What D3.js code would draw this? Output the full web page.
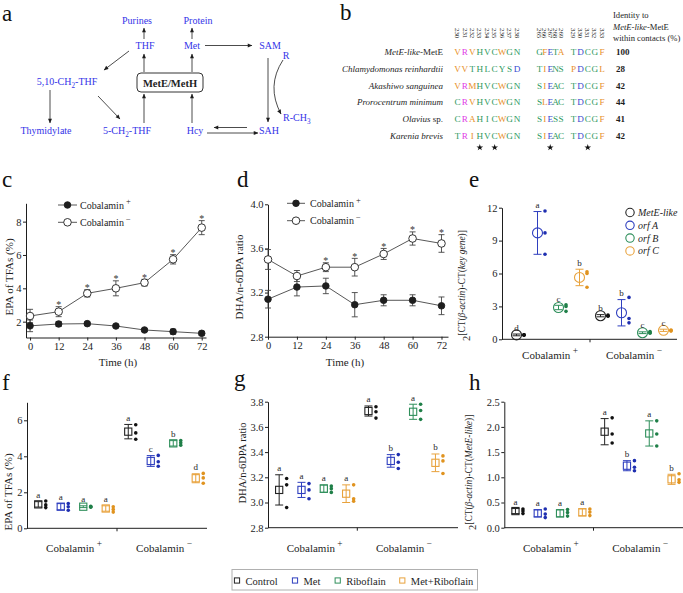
<!DOCTYPE html>
<html><head><meta charset="utf-8">
<script src="https://cdn.jsdelivr.net/npm/d3@7/dist/d3.min.js"></script>
<style>html,body{margin:0;padding:0;background:#fff;} svg{display:block;}
svg text, svg tspan{font-family:"Liberation Serif","Times New Roman",serif;}</style>
</head><body>
<svg id="fig" width="683" height="593"></svg>
<script>
// ================= DATA =================
// panel a: pathway labels
const pathwayLabels = ["Purines","Protein","THF","Met","SAM","R","5,10-CH2-THF","Thymidylate","5-CH2-THF","Hcy","SAH","R-CH3"];
const enzymeLabel = "MetE/MetH";

// panel b: alignment
const alignPosG1 = [230,231,232,233,234,235,236,237,238];
const alignPosG2 = [265,266,267,268,269];
const alignPosG3 = [329,330,331,332,333];
const alignSpecies = ["MetE-like-MetE","Chlamydomonas reinhardtii","Akashiwo sanguinea","Prorocentrum minimum","Olavius sp.","Karenia brevis"];
const alignSeq = ["VRVHVCWGN GFETA TDCGF","VVTHLCYSD TIENS PDCGL","VRMHVCWGN SIEAC TDCGF","CRVHVCWGN SLEAC TDCGF","CRAHICWGN SIESS TDCGF","TRIHVCWGN SIEAC TDCGF"];
const alignClass = ["omogggogg gobgo gbggo","ooggggggb gobgg obggo","omogggogg gobgg gbggo","gmogggogg gobgg gbggo","gmogggogg gobgg gbggo","gmogggogg gobgg gbggo"];
const alignIdentity = [100,28,42,44,41,42];
const alignStars = [233,235,267,331];

// panels c, d: time course
const hours = [0,12,24,36,48,60,72];
const epaCobPlus = [1.75,1.86,1.88,1.74,1.5,1.4,1.3];
const epaCobPlusErr = [0.35,0.15,0.08,0.08,0.08,0.15,0.12];
const epaCobMinus = [2.34,2.6,3.7,4.0,4.34,5.74,7.64];
const epaCobMinusErr = [0.4,0.3,0.22,0.45,0.2,0.28,0.42];
const epaStars = [12,24,36,48,60,72];
const ratioCobPlus = [3.14,3.25,3.26,3.09,3.13,3.13,3.08];
const ratioCobPlusErr = [0.08,0.08,0.07,0.11,0.05,0.05,0.08];
const ratioCobMinus = [3.50,3.35,3.43,3.43,3.55,3.69,3.645];
const ratioCobMinusErr = [0.09,0.05,0.04,0.08,0.05,0.06,0.08];
const ratioStars = [24,36,48,60,72];

// panel e: gene expression
const conditions = ["Cobalamin+","Cobalamin−"];
const genes = ["MetE-like","orf A","orf B","orf C"];
const geneMean = [[0.4,9.7,2.9,5.64],[2.15,2.42,0.6,0.82]];
const geneErr = [[0.08,1.95,0.2,0.75],[0.1,1.2,0.08,0.1]];
const geneDots = [[[0.42,0.4,0.38],[11.7,9.7,7.75],[3.15,3.0,2.55],[6.15,6.0,4.75]],
                  [[2.2,2.15,2.1],[3.82,1.9,1.5],[0.7,0.62,0.55],[0.85,0.8,0.75]]];
const geneLetters = [["d","a","c","b"],["b","b","c","c"]];

// panels f, g, h: treatments
const treatments = ["Control","Met","Riboflain","Met+Riboflain"];
const epaTreatMean = [[1.33,1.2,1.2,1.1],[5.37,3.74,4.72,2.78]];
const epaTreatErr = [[0.15,0.17,0.05,0.15],[0.4,0.3,0.15,0.25]];
const epaTreatDots = [[[1.52,1.3,1.15],[1.38,1.2,1.0],[1.22,1.2,1.17],[1.2,1.05,0.9]],
                      [[5.75,5.3,4.95],[4.05,3.7,3.45],[4.88,4.75,4.62],[3.05,2.8,2.5]]];
const epaTreatLetters = [["a","a","a","a"],["a","c","b","d"]];
const ratioTreatMean = [[3.10,3.10,3.11,3.07],[3.726,3.33,3.72,3.315]];
const ratioTreatErr = [[0.12,0.06,0.03,0.07],[0.04,0.05,0.06,0.07]];
const ratioTreatDots = [[[3.19,3.14,2.96],[3.15,3.1,3.03],[3.13,3.11,3.08],[3.14,3.03,3.01]],
                        [[3.76,3.72,3.67],[3.38,3.32,3.27],[3.78,3.73,3.66],[3.37,3.33,3.23]]];
const ratioTreatLetters = [["a","a","a","a"],["a","b","a","b"]];
const metETreatMean = [[0.33,0.285,0.285,0.305],[1.905,1.23,1.87,0.96]];
const metETreatErr = [[0.05,0.07,0.07,0.07],[0.26,0.1,0.25,0.1]];
const metETreatDots = [[[0.37,0.33,0.28],[0.37,0.27,0.2],[0.36,0.3,0.23],[0.37,0.31,0.24]],
                       [[2.18,1.86,1.68],[1.33,1.2,1.13],[2.12,1.86,1.62],[1.07,0.95,0.9]]];
const metETreatLetters = [["a","a","a","a"],["a","b","a","b"]];

// ================= DRAWING =================
const svg = d3.select("#fig");
const ink = "#1e1e1e";
const pathBlue = "#3434e8";
const seriesColor = ["#222222","#2f3fbf","#2f8f5b","#e8a23c"];
const dotColor = ["#111111","#1f2fb0","#1f7f48","#e0931f"];
const resColor = {o:"#e8902a", m:"#e03de6", g:"#2f9a5f", b:"#3a4bcf"};

const defs = svg.append("defs");
defs.append("marker").attr("id","ah").attr("viewBox","0 0 10 10").attr("refX",9.5).attr("refY",5)
  .attr("markerWidth",6).attr("markerHeight",4.5).attr("markerUnits","userSpaceOnUse").attr("orient","auto")
  .append("path").attr("d","M0,0.5L10,5L0,9.5Z").attr("fill",ink);

function rich(sel, parts, base){
  let shift = 0;
  parts.forEach(p=>{
    const target = p.sub ? base*0.3 : (p.sup ? -base*0.42 : 0);
    const ts = sel.append("tspan").text(p.t);
    if (target !== shift){ ts.attr("dy", target-shift); shift = target; }
    if (p.sub || p.sup) ts.attr("font-size", base*(p.ss||0.72));
    if (p.i) ts.attr("font-style","italic");
    if (p.b) ts.attr("font-weight","bold");
  });
  return sel;
}
function panelLetter(t,x,y){ svg.append("text").attr("x",x).attr("y",y).attr("font-size",23).attr("fill","#111").text(t); }
function styleAxis(a, fs){
  a.attr("font-size",fs||10);
  a.selectAll("path,line").attr("stroke",ink).attr("stroke-width",1);
  a.selectAll("text").attr("fill",ink);
}
function cobLabel(g, x, y, i, fs){
  const t = g.append("text").attr("x",x).attr("y",y).attr("text-anchor","middle").attr("font-size",fs).attr("fill",ink);
  rich(t, [{t:"Cobalamin"},{t: i===0?" +":" −", sup:true, ss:0.85}], fs);
  return t;
}

// ---------- panel a ----------
panelLetter("a",2,21);
(function(){
  const g = svg.append("g").attr("fill",pathBlue).attr("font-size",10);
  const layout = {
    "Purines":[137,24],"Protein":[198,24],"THF":[145,49],"Met":[192,49],"SAM":[270,49],"R":[286,59],
    "5,10-CH2-THF":[67,85],"Thymidylate":[46,134],"5-CH2-THF":[127,134],"Hcy":[195,134],"SAH":[269,134],"R-CH3":[283,121]
  };
  pathwayLabels.forEach(name=>{
    const [x,y] = layout[name];
    const t = g.append("text").attr("x",x).attr("y",y).attr("text-anchor", name==="R-CH3"?"start":"middle");
    const m = name.match(/^(.*CH)(\d)(.*)$/);
    if (m) rich(t,[{t:m[1]},{t:m[2],sub:true},{t:m[3]}],10); else t.text(name);
  });
  svg.append("rect").attr("x",137).attr("y",73).attr("width",66).attr("height",19).attr("rx",4)
    .attr("fill","none").attr("stroke",ink).attr("stroke-width",0.9);
  svg.append("text").attr("x",170).attr("y",86.5).attr("text-anchor","middle").attr("font-size",10.5)
    .attr("font-weight","bold").attr("fill",ink).text(enzymeLabel);
  const arrows = [
    [144,39,144,28],[192,39,192,28],[144,72,144,54],[192,72,192,54],[144,123,144,94],[192,123,192,94],
    [129,51,104,70],[50,90,50,123],[98,96,120,119],[205,45.5,252,45.5],[268,58,268,122],[247,127.5,214,127.5],[207,133,258,133]
  ];
  arrows.forEach(a=>svg.append("line").attr("x1",a[0]).attr("y1",a[1]).attr("x2",a[2]).attr("y2",a[3])
    .attr("stroke",ink).attr("stroke-width",0.8).attr("marker-end","url(#ah)"));
  svg.append("path").attr("d","M283,60 Q266,86 281,114").attr("fill","none").attr("stroke",ink)
    .attr("stroke-width",0.8).attr("marker-end","url(#ah)");
})();

// ---------- panel b ----------
panelLetter("b",340,20);
(function(){
  const g = svg.append("g");
  const rowY = d3.scalePoint().domain(alignSpecies).range([55,139]);
  const groupX = [
    d3.scalePoint().domain(alignPosG1).range([457.5,517]),
    d3.scalePoint().domain(alignPosG2).range([539.5,561]),
    d3.scalePoint().domain(alignPosG3).range([573.5,602])
  ];
  const groupPos = [alignPosG1, alignPosG2, alignPosG3];
  groupPos.forEach((ps,gi)=>ps.forEach(p=>{
    const x = groupX[gi](p);
    g.append("text").attr("transform",`translate(${x},28) rotate(90)`).attr("dy","0.35em")
      .attr("font-size",6.8).attr("fill","#222").text(p);
  }));
  alignSpecies.forEach((s,i)=>{
    const t = g.append("text").attr("x",443).attr("y",rowY(s)).attr("text-anchor","end").attr("font-size",9).attr("fill",ink);
    if (s==="MetE-like-MetE") rich(t,[{t:"MetE-like",i:true},{t:"-MetE"}],9);
    else if (s==="Olavius sp.") rich(t,[{t:"Olavius",i:true},{t:" sp."}],9);
    else rich(t,[{t:s,i:true}],9);
    const seqs = alignSeq[i].split(" "), cls = alignClass[i].split(" ");
    seqs.forEach((sq,gi)=>sq.split("").forEach((ch,k)=>{
      g.append("text").attr("x",groupX[gi](groupPos[gi][k])).attr("y",rowY(s)).attr("text-anchor","middle")
        .attr("font-size",9.2).attr("fill",resColor[cls[gi][k]]).text(ch);
    }));
    g.append("text").attr("x",616).attr("y",rowY(s)).attr("font-size",9).attr("font-weight","bold").attr("fill",ink).text(alignIdentity[i]);
  });
  g.append("text").attr("x",613).attr("y",18).attr("font-size",8.6).attr("fill",ink).text("Identity to");
  rich(g.append("text").attr("x",613).attr("y",30).attr("font-size",8.6).attr("fill",ink),[{t:"MetE-like",i:true},{t:"-MetE"}],8.6);
  g.append("text").attr("x",613).attr("y",41).attr("font-size",8.6).attr("fill",ink).text("within contacts (%)");
  alignStars.forEach(p=>{
    const gi = groupPos.findIndex(ps=>ps.includes(p));
    g.append("path").attr("d",d3.symbol(d3.symbolStar,14)()).attr("transform",`translate(${groupX[gi](p)},147.5)`).attr("fill","#111");
  });
})();

// ---------- panels c & d ----------
function timePanel(o){
  const g = svg.append("g");
  const x = d3.scaleLinear().domain(o.xDomain).range(o.xRange);
  const y = d3.scaleLinear().domain(o.yDomain).range(o.yRange);
  const ya = g.append("g").attr("transform",`translate(${o.xRange[0]},0)`)
    .call(d3.axisLeft(y).tickValues(o.yTicks).tickFormat(o.yFmt).tickSize(3).tickSizeOuter(0).tickPadding(1.5));
  const xa = g.append("g").attr("transform",`translate(0,${o.yRange[0]})`)
    .call(d3.axisBottom(x).tickValues(hours).tickSize(3).tickSizeOuter(0).tickPadding(2));
  styleAxis(ya,10.5); styleAxis(xa,10.5);
  g.append("text").attr("x",o.xTitle[0]).attr("y",o.xTitle[1]).attr("text-anchor","middle").attr("font-size",11).attr("fill",ink).text("Time (h)");
  g.append("text").attr("transform",`translate(${o.yTitle[0]},${o.yTitle[1]}) rotate(-90)`).attr("text-anchor","middle")
    .attr("font-size",11).attr("fill",ink).text(o.yLabel);
  const line = d3.line().x((d,i)=>x(hours[i])).y(d=>y(d));
  const series = [{v:o.plus,e:o.plusErr,fill:ink},{v:o.minus,e:o.minusErr,fill:"#fff"}];
  series.forEach(s=>g.append("path").attr("d",line(s.v)).attr("fill","none").attr("stroke","#444").attr("stroke-width",0.9));
  series.forEach(s=>s.v.forEach((v,i)=>{
    const cx = x(hours[i]), y1 = y(v+s.e[i]), y2 = y(v-s.e[i]);
    g.append("line").attr("x1",cx).attr("x2",cx).attr("y1",y1).attr("y2",y2).attr("stroke","#444").attr("stroke-width",0.9);
    [y1,y2].forEach(yy=>g.append("line").attr("x1",cx-3).attr("x2",cx+3).attr("y1",yy).attr("y2",yy).attr("stroke","#444").attr("stroke-width",0.9));
  }));
  series.forEach(s=>s.v.forEach((v,i)=>{
    g.append("circle").attr("cx",x(hours[i])).attr("cy",y(v)).attr("r",s.fill==="#fff"?3.8:3.3)
      .attr("fill",s.fill).attr("stroke",ink).attr("stroke-width",0.9);
  }));
  o.stars.forEach(h=>{
    const i = hours.indexOf(h);
    g.append("text").attr("x",x(h)).attr("y",y(o.minus[i]+o.minusErr[i])+1.5).attr("text-anchor","middle")
      .attr("font-size",10).attr("fill","#333").text("*");
  });
  const L = o.legend;
  [0,1].forEach(k=>{
    const ly = L.y[k];
    g.append("line").attr("x1",L.x[0]).attr("x2",L.x[1]).attr("y1",ly).attr("y2",ly).attr("stroke","#444").attr("stroke-width",0.9);
    g.append("circle").attr("cx",(L.x[0]+L.x[1])/2).attr("cy",ly).attr("r",k===0?3.3:3.8)
      .attr("fill",k===0?ink:"#fff").attr("stroke",ink).attr("stroke-width",0.9);
    const t = g.append("text").attr("x",L.tx).attr("y",ly+3.5).attr("font-size",10).attr("fill",ink);
    rich(t,[{t:"Cobalamin"},{t:k===0?" +":" −",sup:true,ss:0.85}],10);
  });
}
panelLetter("c",2,187);
timePanel({xDomain:[-1.7,73.8], xRange:[26,206], yDomain:[1.05,9.1], yRange:[337.5,203.3], yTicks:[2,4,6,8], yFmt:d3.format("d"),
  plus:epaCobPlus, plusErr:epaCobPlusErr, minus:epaCobMinus, minusErr:epaCobMinusErr, stars:epaStars,
  xTitle:[118,366], yTitle:[13,277], yLabel:"EPA of TFAs (%)", legend:{x:[58,77], y:[205,222.3], tx:80}});
panelLetter("d",237,187);
timePanel({xDomain:[0,74.7], xRange:[268,448], yDomain:[2.8,4.0], yRange:[336.7,204.3], yTicks:[2.8,3.2,3.6,4.0], yFmt:d3.format(".1f"),
  plus:ratioCobPlus, plusErr:ratioCobPlusErr, minus:ratioCobMinus, minusErr:ratioCobMinusErr, stars:ratioStars,
  xTitle:[345,366], yTitle:[243,277], yLabel:"DHA/n-6DPA ratio", legend:{x:[287,305], y:[203.3,220.7], tx:310}});

// ---------- panels e, f, g, h ----------
function dotPanel(o){
  const g = svg.append("g");
  const y = d3.scaleLinear().domain(o.yDomain).range(o.yRange);
  const gx = d3.scaleBand().domain(conditions).range(o.band);
  const ix = d3.scalePoint().domain(o.items).range([0,gx.bandwidth()]).padding(0.5);
  const ya = g.append("g").attr("transform",`translate(${o.axisX},0)`)
    .call(d3.axisLeft(y).tickValues(o.ticks).tickFormat(o.fmt).tickSize(3).tickSizeOuter(0).tickPadding(1.5));
  styleAxis(ya,10.5);
  const y0 = o.yRange[0];
  g.append("line").attr("x1",o.axisX).attr("x2",o.axisEnd).attr("y1",y0).attr("y2",y0).attr("stroke",ink);
  g.append("line").attr("x1",o.mid).attr("x2",o.mid).attr("y1",y0).attr("y2",y0+3).attr("stroke",ink);
  conditions.forEach((c,ci)=>cobLabel(g, gx(c)+gx.bandwidth()/2+o.labelDx, o.labelY, ci, 11));
  conditions.forEach((c,ci)=>o.items.forEach((it,ii)=>{
    const cx = gx(c)+ix(it), m = o.mean[ci][ii], e = o.err[ci][ii];
    const col = seriesColor[ii];
    const yt = y(m+e), yb = y(m-e);
    g.append("line").attr("x1",cx).attr("x2",cx).attr("y1",yt).attr("y2",yb).attr("stroke",col).attr("stroke-width",1);
    [yt,yb].forEach(yy=>g.append("line").attr("x1",cx-4).attr("x2",cx+4).attr("y1",yy).attr("y2",yy).attr("stroke",col).attr("stroke-width",1));
    if (o.marker==="circle")
      g.append("circle").attr("cx",cx).attr("cy",y(m)).attr("r",5).attr("fill","none").attr("stroke",col).attr("stroke-width",1.1);
    else
      g.append("rect").attr("x",cx-3.6).attr("y",y(m)-3.6).attr("width",7.2).attr("height",7.2).attr("fill","none").attr("stroke",col).attr("stroke-width",1.1);
    o.dots[ci][ii].forEach(v=>g.append("circle").attr("cx",cx+o.dotDx).attr("cy",y(v)).attr("r",1.8).attr("fill",dotColor[ii]));
    g.append("text").attr("x",cx).attr("y",yt-3.5).attr("text-anchor","middle").attr("font-size",9).attr("fill",ink).text(o.letters[ci][ii]);
  }));
  return g;
}
function expLabel(x, y, bracketParts){
  const t = svg.append("text").attr("transform",`translate(${x},${y}) rotate(-90)`).attr("font-size",10.5).attr("fill",ink);
  rich(t,[{t:"2"},...bracketParts.map(p=>Object.assign({sup:true,ss:0.9},p))],10.5);
}

panelLetter("e",469,187);
dotPanel({yDomain:[0,12], yRange:[339.3,207.7], band:[506,674], items:genes, axisX:502, axisEnd:677, mid:590,
  ticks:[0,3,6,9,12], fmt:d3.format("d"), mean:geneMean, err:geneErr, dots:geneDots, letters:geneLetters,
  marker:"circle", dotDx:7.5, labelY:359, labelDx:2});
expLabel(469.5, 341, [{t:"[CT("},{t:"β-actin",i:true},{t:")-CT("},{t:"key gene",i:true},{t:")]"}]);
genes.forEach((gname,i)=>{
  const ly = 212.5 + i*12.8;
  svg.append("circle").attr("cx",630).attr("cy",ly).attr("r",4.2).attr("fill","none").attr("stroke",seriesColor[i]).attr("stroke-width",1.1);
  svg.append("text").attr("x",638).attr("y",ly+3.5).attr("font-size",10).attr("font-style","italic").attr("fill",ink).text(gname);
});

panelLetter("f",2,390);
dotPanel({yDomain:[0,7], yRange:[528.3,402.3], band:[27,207], items:treatments, axisX:27, axisEnd:207, mid:117,
  ticks:[0,2,4,6], fmt:d3.format("d"), mean:epaTreatMean, err:epaTreatErr, dots:epaTreatDots, letters:epaTreatLetters,
  marker:"square", dotDx:7.5, labelY:551.5, labelDx:2});
svg.append("text").attr("transform","translate(12,492) rotate(-90)").attr("text-anchor","middle").attr("font-size",11).attr("fill",ink).text("EPA of TFAs (%)");

panelLetter("g",234,386);
dotPanel({yDomain:[2.8,3.8], yRange:[527.7,401.7], band:[268,446.6], items:treatments, axisX:268, axisEnd:458, mid:357.3,
  ticks:[2.8,3.0,3.2,3.4,3.6,3.8], fmt:d3.format(".1f"), mean:ratioTreatMean, err:ratioTreatErr, dots:ratioTreatDots, letters:ratioTreatLetters,
  marker:"square", dotDx:7.5, labelY:551.5, labelDx:2});
svg.append("text").attr("transform","translate(246,463) rotate(-90)").attr("text-anchor","middle").attr("font-size",10.5).attr("fill",ink).text("DHA/n-6DPA ratio");

panelLetter("h",469,390);
dotPanel({yDomain:[0,2.5], yRange:[527.7,401.7], band:[504.3,682.7], items:treatments, axisX:504.3, axisEnd:683, mid:593.5,
  ticks:[0,0.5,1.0,1.5,2.0,2.5], fmt:d3.format(".1f"), mean:metETreatMean, err:metETreatErr, dots:metETreatDots, letters:metETreatLetters,
  marker:"square", dotDx:7.5, labelY:551.5, labelDx:2});
expLabel(476, 530, [{t:"[CT("},{t:"β-actin",i:true},{t:")-CT("},{t:"MetE-like",i:true},{t:")]"}]);

// ---------- bottom legend ----------
(function(){
  const g = svg.append("g");
  g.append("rect").attr("x",232).attr("y",569.5).attr("width",245.5).attr("height",20.5).attr("fill","#fff").attr("stroke","#b0b0b0").attr("stroke-width",1);
  const sqX = [237,295,337.7,402.3];
  treatments.forEach((t,i)=>{
    g.append("rect").attr("x",sqX[i]-2.6).attr("y",580.5-2.6).attr("width",5.2).attr("height",5.2).attr("fill","none").attr("stroke",seriesColor[i]).attr("stroke-width",1);
    g.append("text").attr("x",sqX[i]+8.5).attr("y",584.5).attr("font-size",10.5).attr("fill",ink).text(t);
  });
})();
</script>
</body></html>
